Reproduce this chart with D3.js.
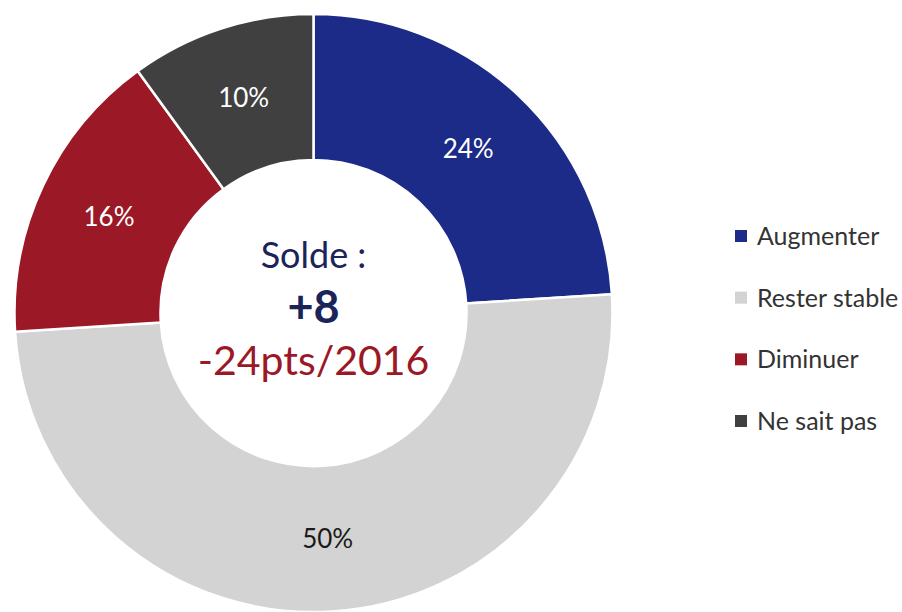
<!DOCTYPE html>
<html>
<head>
<meta charset="utf-8">
<script src="https://cdn.jsdelivr.net/npm/d3@7"></script>
<style>
  body { margin: 0; background: #fff; }
  svg { display: block; font-family: Lato, "Noto Sans", sans-serif; }
</style>
</head>
<body>
<svg id="chart" width="902" height="612"></svg>
<script>
// data
var categories = ["Augmenter", "Rester stable", "Diminuer", "Ne sait pas"];
var values = [24, 50, 16, 10];
var labels = ["24%", "50%", "16%", "10%"];
var colors = ["#1b2b87", "#d3d3d3", "#9b1826", "#404040"];
var labelColors = ["#ffffff", "#1a1a1a", "#ffffff", "#ffffff"];
var centerLines = ["Solde :", "+8", "-24pts/2016"];

var width = 902, height = 612;
var cx = 313.5, cy = 313, outerR = 299, innerR = 153;

var svg = d3.select("#chart");

var color = d3.scaleOrdinal().domain(categories).range(colors);

var pie = d3.pie().sort(null).value(function(d) { return d.value; });
var arc = d3.arc().innerRadius(innerR).outerRadius(outerR);

var data = categories.map(function(c, i) {
    return {cat: c, value: values[i], label: labels[i], lc: labelColors[i]};
});

var g = svg.append("g").attr("transform", "translate(" + cx + "," + cy + ")");

g.selectAll("path.slice")
    .data(pie(data))
    .enter()
    .append("path")
    .attr("class", "slice")
    .attr("d", arc)
    .style("fill", function(d) { return color(d.data.cat); })
    .style("stroke", "#fff")
    .style("stroke-width", 2.5);

g.selectAll("text.pct")
    .data(pie(data))
    .enter()
    .append("text")
    .attr("class", "pct")
    .attr("transform", function(d) { return "translate(" + arc.centroid(d) + ")"; })
    .attr("text-anchor", "middle")
    .attr("dy", "0.36em")
    .style("font-size", "26px")
    .style("fill", function(d) { return d.data.lc; })
    .text(function(d) { return d.data.label; });

// centre text
g.append("text")
    .attr("text-anchor", "middle")
    .attr("y", -45)
    .style("font-size", "36px")
    .style("fill", "#1b2459")
    .text(centerLines[0]);

g.append("text")
    .attr("text-anchor", "middle")
    .attr("y", 10)
    .style("font-size", "45px")
    .style("font-weight", "bold")
    .style("fill", "#1b2459")
    .text(centerLines[1]);

g.append("text")
    .attr("text-anchor", "middle")
    .attr("y", 62)
    .style("font-size", "41px")
    .style("fill", "#9b1826")
    .text(centerLines[2]);

// legend
var legendY = d3.scalePoint().domain(categories).range([236, 421]);

var legend = svg.selectAll("g.legend")
    .data(categories)
    .enter()
    .append("g")
    .attr("class", "legend")
    .attr("transform", function(d) { return "translate(735," + legendY(d) + ")"; });

legend.append("rect")
    .attr("x", 0)
    .attr("y", -6)
    .attr("width", 12)
    .attr("height", 12)
    .style("fill", function(d) { return color(d); });

legend.append("text")
    .attr("x", 22)
    .attr("dy", "0.36em")
    .style("font-size", "25px")
    .style("fill", "#333")
    .text(function(d) { return d; });
</script>
</body>
</html>
